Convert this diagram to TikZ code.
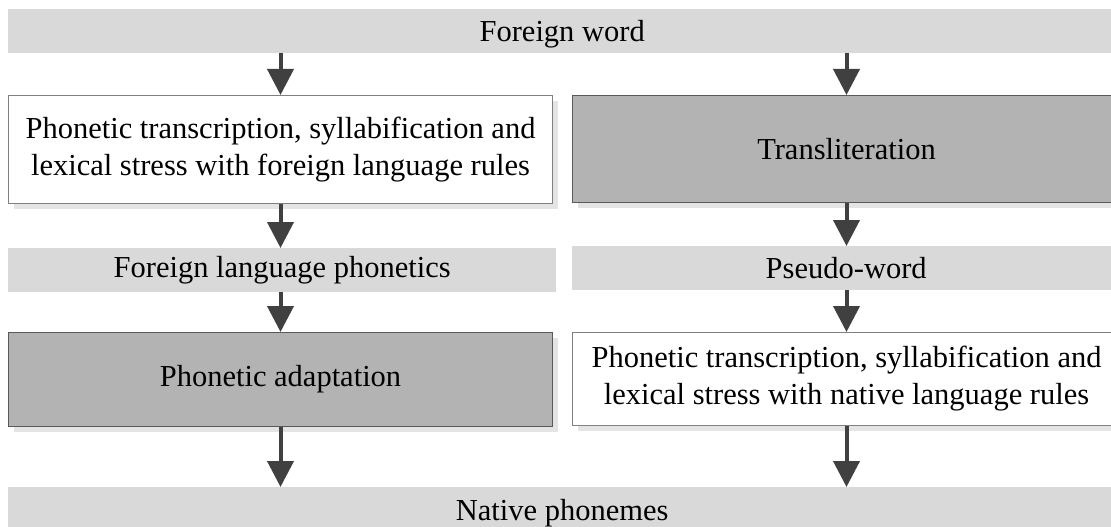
\documentclass[tikz,border=0pt]{standalone}
\usepackage{fontspec}
\setmainfont{Liberation Serif}
\usetikzlibrary{arrows.meta,shadows}
\definecolor{barfill}{HTML}{D9D9D9}
\definecolor{darkfill}{HTML}{B3B3B3}
\definecolor{shade}{HTML}{E4E4E4}
\definecolor{arrowcol}{HTML}{404040}
\tikzset{
  bar/.style={fill=barfill, draw=none, inner sep=0pt, anchor=north west,
    font=\fontsize{30.5}{37}\selectfont},
  widebar/.style={bar, minimum width=1120pt, text depth=0pt,
    execute at begin node=\hspace*{-6pt}, execute at end node=\hspace*{6pt}},
  stage/.style={draw=#1, line width=1pt, inner sep=0pt, anchor=north west,
    align=center, font=\fontsize{30.5}{37}\selectfont,
    drop shadow={shadow xshift=5pt, shadow yshift=-5pt, fill=shade, opacity=1}},
  whitebox/.style={stage=black!50, fill=white},
  greybox/.style={stage=black!65, fill=darkfill},
  flow/.style={draw=arrowcol, line width=4pt,
    -{Triangle[width=26pt,length=26pt]}},
}
\begin{document}
\begin{tikzpicture}[x=1pt,y=-1pt]
\useasboundingbox (0,0) rectangle (1111,527);
\clip (0,0) rectangle (1111,527);
% input and output bars
\node[widebar, minimum height=44pt] (fw) at (8,9) {Foreign word};
\node[widebar, minimum height=46pt] (np) at (8,487) {Native phonemes};
% left column
\node[whitebox, minimum width=544pt, minimum height=108pt] (ptf) at (8,95)
  {Phonetic transcription, syllabification and\\lexical stress with foreign language rules};
\node[bar, minimum width=548pt, minimum height=44pt] (flp) at (8,248) {Foreign language phonetics};
\node[greybox, minimum width=544pt, minimum height=94pt] (pa) at (8,332) {Phonetic adaptation};
% right column
\node[greybox, minimum width=548pt, minimum height=107pt] (tr) at (572,95) {Transliteration};
\node[bar, minimum width=548pt, minimum height=44pt] (pw) at (572,246) {Pseudo-word};
\node[whitebox, minimum width=548pt, minimum height=93pt] (ptn) at (572,332)
  {Phonetic transcription, syllabification and\\lexical stress with native language rules};
% connectors
\draw[flow] (fw.south -| ptf.north) -- (ptf.north);
\draw[flow] (ptf.south) -- (ptf.south |- flp.north);
\draw[flow] (flp.south -| pa.north) -- (pa.north);
\draw[flow] (pa.south) -- (pa.south |- np.north);
\draw[flow] (fw.south -| tr.north) -- (tr.north);
\draw[flow] (tr.south) -- (tr.south |- pw.north);
\draw[flow] (pw.south -| ptn.north) -- (ptn.north);
\draw[flow] (ptn.south) -- (ptn.south |- np.north);
\end{tikzpicture}
\end{document}
